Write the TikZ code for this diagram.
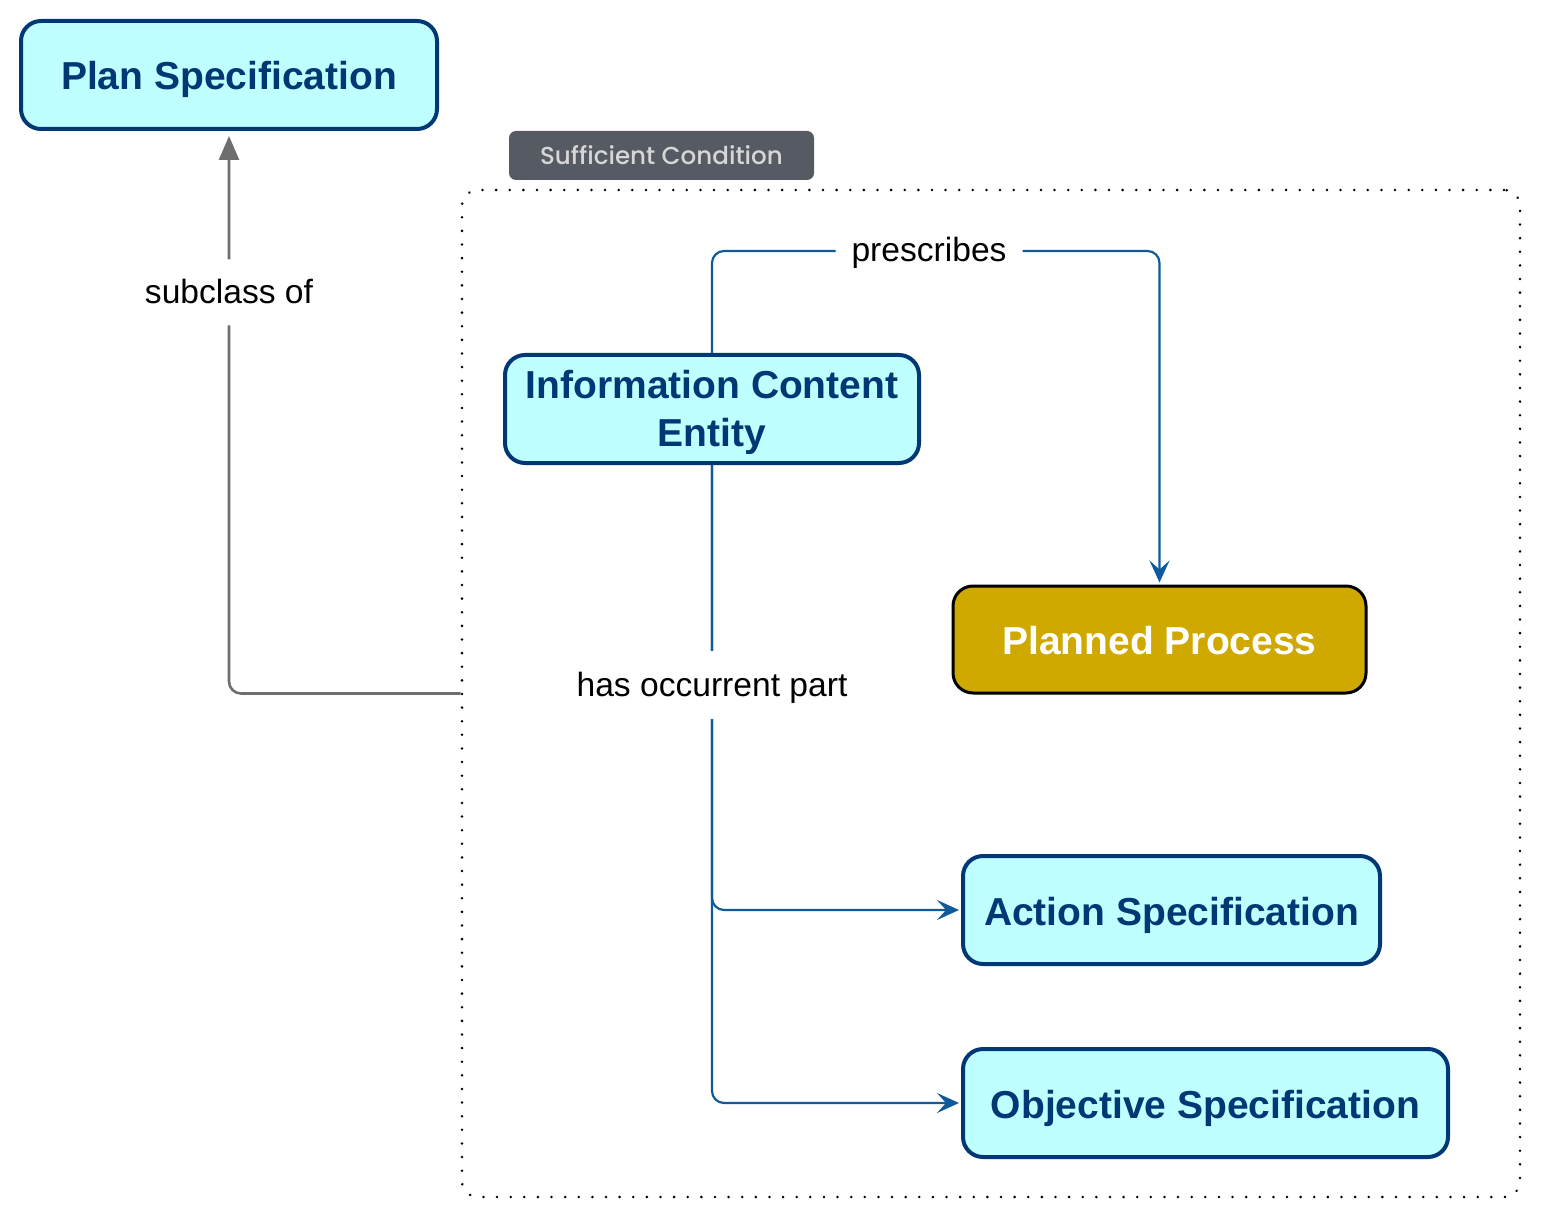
\documentclass[tikz,border=0pt]{standalone}
\usepackage{fontspec}
\setmainfont{Liberation Sans}
\newfontfamily\tagfont{Poppins Medium}
\usetikzlibrary{arrows.meta,calc}
\definecolor{nodefill}{RGB}{192,255,255}
\definecolor{nodeline}{RGB}{0,56,117}
\definecolor{ppfill}{RGB}{207,168,0}
\definecolor{edgeblue}{RGB}{16,90,155}
\definecolor{edgegray}{RGB}{110,110,110}
\definecolor{tagfill}{RGB}{85,90,99}
\definecolor{tagtext}{RGB}{214,214,214}
\begin{document}
\begin{tikzpicture}[x=0.5pt,y=-0.5pt,
  classbox/.style={draw=nodeline, line width=2pt, fill=nodefill, rounded corners=10pt,
    text=nodeline, font=\fontsize{19.5}{24}\selectfont\bfseries, align=center,
    minimum height=54pt, inner sep=0pt, text height=16pt, text depth=1pt},
  procbox/.style={draw=black, line width=1.5pt, fill=ppfill, rounded corners=10pt,
    text=white, font=\fontsize{19.5}{24}\selectfont\bfseries, align=center,
    minimum height=53.5pt, inner sep=0pt, text height=16pt, text depth=1.5pt},
  blueedge/.style={draw=edgeblue, line width=1.1pt, rounded corners=6pt,
    -{Stealth[length=11pt,width=10pt,inset=4.5pt]}, shorten >=1pt},
  grayedge/.style={draw=edgegray, line width=1.3pt, rounded corners=6pt,
    -{Triangle[length=12pt,width=10pt]}, shorten >=2.5pt},
  edgelabel/.style={fill=white, text=black, font=\fontsize{16.8}{20}\selectfont, inner sep=4pt,
    text height=15pt, text depth=4pt},
  tag/.style={fill=tagfill, text=tagtext, rounded corners=3.5pt, font=\tagfont\fontsize{12.3}{15}\selectfont,
    minimum width=152.5pt, minimum height=24.5pt, inner sep=0pt},
  container/.style={draw=black, line width=1.4pt, dash pattern=on 0.01pt off 6.8pt, line cap=round,
    rounded corners=8pt, minimum width=529pt, minimum height=503.5pt, inner sep=0pt}
]
\useasboundingbox (0,0) rectangle (1541,1219);
\node[container] (cont) at (991,693.5) {};
\node[tag] (tag) at (661.5,155.5) {Sufficient Condition};
\node[classbox, minimum width=208pt] (ps) at (229,75) {Plan Specification};
\node[classbox, minimum width=207pt, text height=, text depth=] (ice) at (712,409) {\rule{0pt}{17.3pt}Information Content\\Entity};
\node[procbox, minimum width=206.5pt] (pp) at (1159.5,639.5) {Planned Process};
\node[classbox, minimum width=208.5pt] (act) at (1171.5,910) {Action Specification};
\node[classbox, minimum width=242.5pt] (obj) at (1205.5,1103) {Objective Specification};
\coordinate (pbend) at (0,251);
\draw[blueedge] (ice.north) -- (ice.north |- pbend) -- node[pos=0.485, edgelabel, inner xsep=8pt]{prescribes} (pp.north |- pbend) -- (pp.north);
\draw[blueedge] (ice.south) -- (ice.south |- act.west) -- (act.west);
\draw[blueedge] (ice.south) -- (ice.south |- obj.west) -- (obj.west);
\coordinate (hop) at (712,685);
\node[edgelabel, inner ysep=7.5pt] (hoplabel) at (hop) {has occurrent part};
\draw[grayedge] (cont.west) -- (ps.south |- cont.west) -- node[pos=0.713, edgelabel, inner ysep=7pt]{subclass of} (ps.south);
\end{tikzpicture}
\end{document}
